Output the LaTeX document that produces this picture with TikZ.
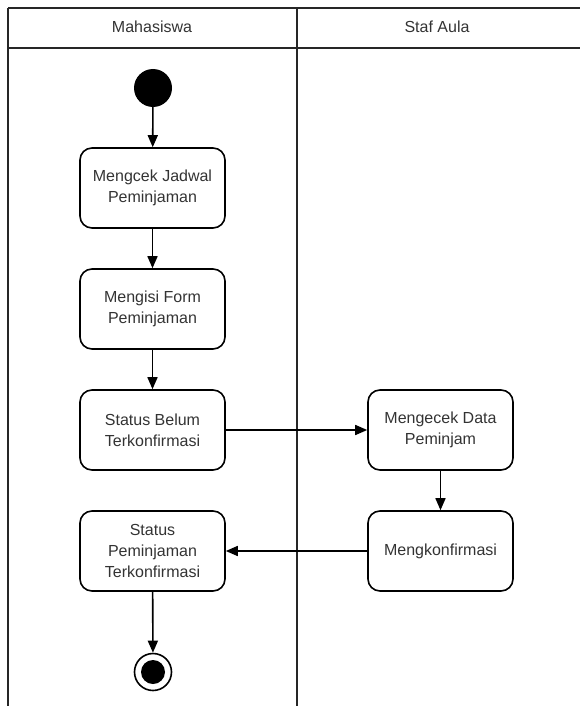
\documentclass[tikz,border=0pt]{standalone}
\usepackage{fontspec}
\setmainfont{Liberation Sans}
\usetikzlibrary{arrows.meta}

\begin{document}
\begin{tikzpicture}[x=1pt,y=-1pt,
  aksi/.style={draw, line width=1.6pt, rounded corners=12pt, minimum width=145pt,
    minimum height=80pt, align=center, text=black!80, inner sep=2pt,
    font=\fontsize{16}{20.7}\selectfont},
  panah/.style={-{Triangle[length=12pt,width=10pt]}, line width=1.6pt},
  judul/.style={text=black!80, font=\fontsize{16}{19}\selectfont}]
\useasboundingbox (0,0) rectangle (580,706);

% swimlanes
\draw [line width=1.6pt, black!85] (8,8)--(580,8);
\draw [line width=1.6pt, black!85] (8,48)--(580,48);
\draw [line width=1.6pt, black!85] (8,8)--(8,706);
\draw [line width=1.6pt, black!85] (297,8)--(297,706);
\node [judul] (lane1) at (152,27) {Mahasiswa};
\node [judul] (lane2) at (437,27) {Staf Aula};

% start / end
\node [circle, fill=black, minimum size=38pt, inner sep=0pt] (mulai) at (153,88) {};
\node [circle, draw, line width=1.6pt, minimum size=37pt, inner sep=0pt] (selesai) at (153,672) {};
\node [circle, fill=black, minimum size=24pt, inner sep=0pt] at (selesai) {};

% actions
\node [aksi] (cek) at (152.5,188) {Mengcek Jadwal\\Peminjaman};
\node [aksi] (isi) at (152.5,309) {Mengisi Form\\Peminjaman};
\node [aksi] (belum) at (152.5,430) {Status Belum\\Terkonfirmasi};
\node [aksi] (status) at (152.5,551) {Status\\Peminjaman\\Terkonfirmasi};
\node [aksi] (data) at (440.5,430) {Mengecek Data\\Peminjam};
\node [aksi] (konfirm) at (440.5,551) {Mengkonfirmasi};

% flow
\draw [panah] (mulai) -- (cek);
\draw [panah] (cek) -- (isi);
\draw [panah] (isi) -- (belum);
\draw [panah] (belum) -- (data);
\draw [panah] (data) -- (konfirm);
\draw [panah] (konfirm) -- (status);
\draw [panah] (status) -- (selesai);

\end{tikzpicture}
\end{document}
